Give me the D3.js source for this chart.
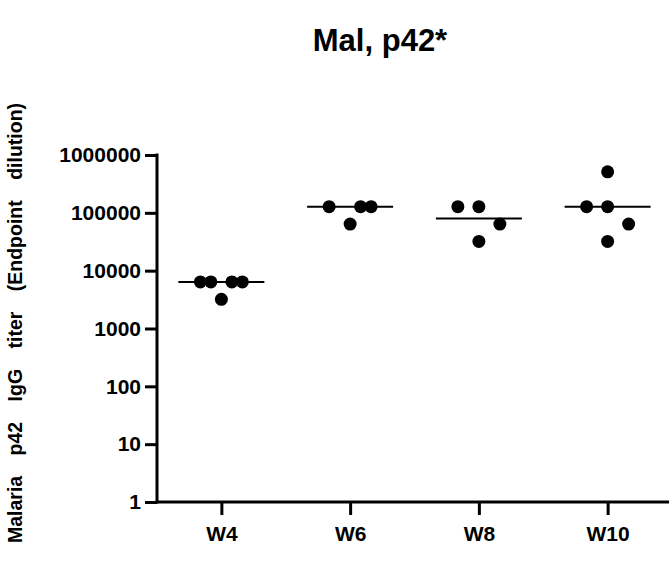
<!DOCTYPE html>
<html>
<head>
<meta charset="utf-8">
<script src="https://cdn.jsdelivr.net/npm/d3@7"></script>
<style>
  body { margin: 0; background: #fff; }
  text { font-family: "Liberation Sans", Arial, sans-serif; font-weight: bold; fill: #000; }
</style>
</head>
<body>
<svg class="chart" width="669" height="565"></svg>
<script>
// Weeks on the x axis
const weeks = ['W4', 'W6', 'W8', 'W10'];
// Endpoint dilution titers per animal, one list per week
const titersW4 = [6400, 6400, 6400, 6400, 3200];
const titersW6 = [128000, 128000, 128000, 64000];
const titersW8 = [128000, 128000, 64000, 32000];
const titersW10 = [512000, 128000, 128000, 64000, 32000];
// Horizontal line (group centre) per week
const lineValues = [6400, 128000, 80000, 128000];
// Y tick values
const yTicks = [1, 10, 100, 1000, 10000, 100000, 1000000];

const titers = [titersW4, titersW6, titersW8, titersW10];

const svg = d3.select('svg.chart');
const margin = { top: 155, right: -3, bottom: 63, left: 157 };
const width = 669 - margin.left - margin.right;
const height = 565 - margin.top - margin.bottom;

const x = d3.scalePoint()
  .domain(weeks)
  .range([0, width])
  .padding(0.5);

const y = d3.scaleLog()
  .domain([1, 1000000])
  .range([height, 0]);

const g = svg.append('g')
  .attr('transform', `translate(${margin.left},${margin.top})`);

// Title
svg.append('text')
  .attr('x', 380)
  .attr('y', 51)
  .attr('text-anchor', 'middle')
  .style('font-size', '31px')
  .text('Mal, p42*');

// Y axis label
svg.append('text')
  .attr('transform', 'translate(22,323) rotate(-90)')
  .attr('text-anchor', 'middle')
  .style('font-size', '19.5px')
  .style('word-spacing', '15px')
  .text('Malaria p42 IgG titer (Endpoint dilution)');

// Y axis
const yAxis = g.append('g')
  .call(d3.axisLeft(y).tickValues(yTicks).tickFormat(d3.format('d')).tickSize(12).tickPadding(4).tickSizeOuter(0));

// X axis
const xAxis = g.append('g')
  .attr('transform', `translate(0,${height})`)
  .call(d3.axisBottom(x).tickSize(13).tickPadding(11).tickSizeOuter(0));

[yAxis, xAxis].forEach(ax => {
  ax.select('.domain').attr('stroke', '#000').attr('stroke-width', 3);
  ax.selectAll('.tick line').attr('stroke', '#000').attr('stroke-width', 3);
  ax.selectAll('.tick text').style('font-size', '21px').attr('fill', '#000');
});
// make the two axes meet at the corner
yAxis.select('.domain').attr('d', `M0,-1.5V${height + 1.5}`);
xAxis.select('.domain').attr('d', `M-1.5,0H${width}`);

// Beeswarm-like spreading: points of different value must not touch,
// equal values may overlap half a dot
const step = 21;
const offsets = [0, step, -step, step / 2, -step / 2, 1.5 * step, -1.5 * step, 2 * step, -2 * step];
function swarm(values, week) {
  const placed = [];
  const sorted = values.slice().sort((a, b) => a - b);
  sorted.forEach(v => {
    const py = y(v);
    const off = offsets.find(o => placed.every(p => {
      const dist = Math.hypot(p.dx - o, p.y - py);
      return p.value === v ? dist >= 10 : dist >= 20;
    }));
    placed.push({ dx: off === undefined ? 0 : off, y: py, value: v, week });
  });
  return placed;
}

const points = titers.flatMap((vals, i) => swarm(vals, weeks[i]));

// Group lines
g.selectAll('line.center')
  .data(lineValues)
  .enter()
  .append('line')
  .attr('class', 'center')
  .attr('x1', (d, i) => x(weeks[i]) - 43)
  .attr('x2', (d, i) => x(weeks[i]) + 43)
  .attr('y1', d => y(d))
  .attr('y2', d => y(d))
  .attr('stroke', '#000')
  .attr('stroke-width', 2);

// Dots
g.selectAll('circle.dot')
  .data(points)
  .enter()
  .append('circle')
  .attr('class', 'dot')
  .attr('cx', d => x(d.week) + d.dx)
  .attr('cy', d => d.y)
  .attr('r', 6.5)
  .attr('fill', '#000');
</script>
</body>
</html>
